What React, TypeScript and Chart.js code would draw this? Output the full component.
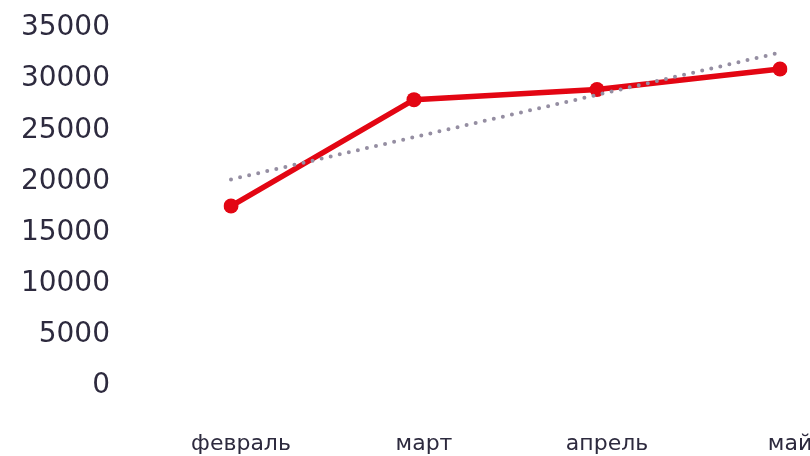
import React, { useEffect, useRef } from "react";
import { Chart, registerables } from "chart.js";

Chart.register(...registerables);

const categories = ["февраль", "март", "апрель", "май"];
const salesValues = [17300, 27700, 28700, 30700];
const trendValues = [19900, 24030, 28170, 32300];
const yTicks = [0, 5000, 10000, 15000, 20000, 25000, 30000, 35000];

export default function App() {
  const ref = useRef<HTMLCanvasElement | null>(null);
  useEffect(() => {
    if (!ref.current) return;
    const chart = new Chart(ref.current, {
      type: "line",
      data: {
        labels: categories,
        datasets: [
          {
            label: "trend",
            data: trendValues,
            borderColor: "#958ea2",
            borderWidth: 4,
            borderDash: [0, 9.3],
            borderCapStyle: "round",
            pointRadius: 0,
            fill: false,
            tension: 0,
          },
          {
            label: "values",
            data: salesValues,
            borderColor: "#e30613",
            backgroundColor: "#e30613",
            borderWidth: 5.5,
            pointRadius: 7.5,
            pointBackgroundColor: "#e30613",
            pointBorderColor: "#e30613",
            pointBorderWidth: 0,
            fill: false,
            tension: 0,
          },
        ],
      },
      options: {
        animation: false,
        responsive: true,
        maintainAspectRatio: false,
        layout: { padding: { top: 25, right: 30, bottom: 0, left: 0 } },
        plugins: { legend: { display: false }, tooltip: { enabled: false } },
        scales: {
          x: {
            type: "category",
            offset: false,
            grid: { display: false, drawTicks: false },
            border: { display: false },
            ticks: {
              color: "#2d2a3e",
              font: { family: "'DejaVu Sans', Verdana, sans-serif", size: 22 },
              padding: 48,
              labelOffset: 10,
              maxRotation: 0,
              autoSkip: false,
            },
            afterFit: (s: any) => {
              s.paddingLeft = 0;
              s.paddingRight = 0;
              s.height = 73;
            },
          },
          y: {
            min: 0,
            max: 35000,
            afterBuildTicks: (s: any) => {
              s.ticks = yTicks.map((v) => ({ value: v }));
            },
            grid: { display: false, drawTicks: false },
            border: { display: false },
            ticks: {
              color: "#2d2a3e",
              font: { family: "'DejaVu Sans', Verdana, sans-serif", size: 28 },
              padding: 121,
              labelOffset: 3,
              callback: (v: any) => String(v),
            },
            afterFit: (s: any) => {
              s.width = 231;
              s.paddingTop = 0;
              s.paddingBottom = 0;
            },
          },
        },
      },
    });
    return () => chart.destroy();
  }, []);
  return (
    <div style={{ position: "absolute", left: 0, top: 0, width: 810, height: 456 }}>
      <canvas ref={ref} />
    </div>
  );
}
